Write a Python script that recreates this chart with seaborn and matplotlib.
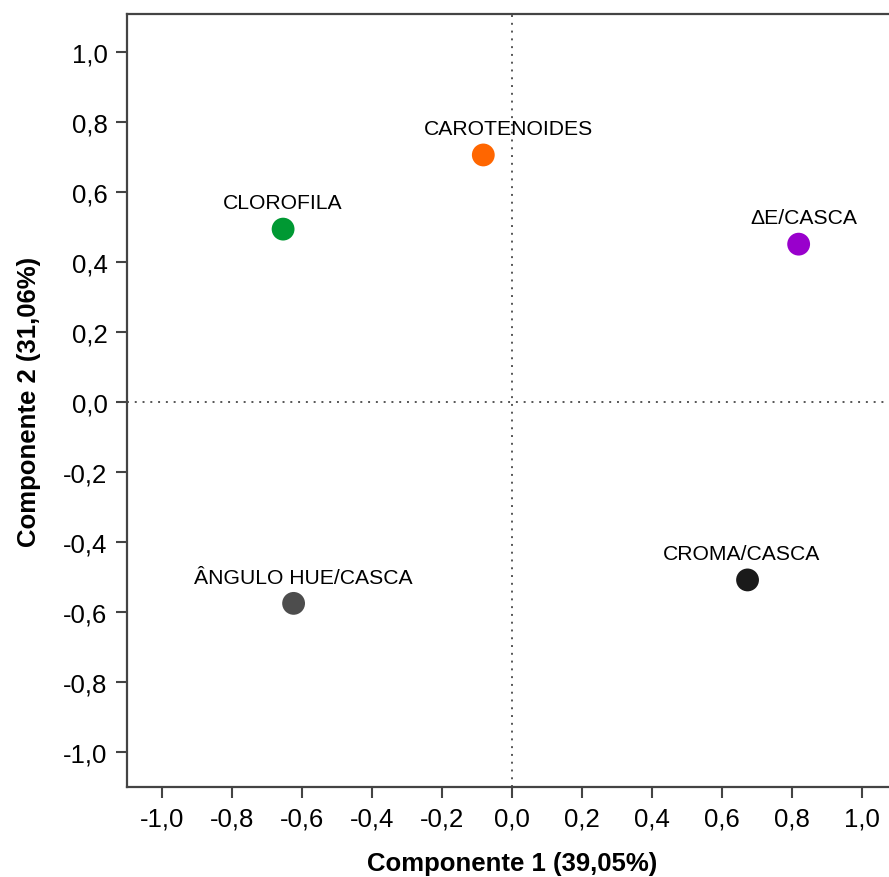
import matplotlib
matplotlib.use("Agg")
import matplotlib.pyplot as plt
import seaborn as sns
import pandas as pd
from matplotlib.ticker import FuncFormatter

# Variable loadings on the first two principal components
variables = ["CLOROFILA", "CAROTENOIDES", "\u0394E/CASCA", "CROMA/CASCA", "\u00c2NGULO HUE/CASCA"]
comp1 = [-0.654, -0.082, 0.819, 0.673, -0.624]
comp2 = [0.495, 0.707, 0.452, -0.508, -0.575]
colors = ["#009933", "#ff6600", "#9900cc", "#1a1a1a", "#4d4d4d"]
ticks = [-1.0, -0.8, -0.6, -0.4, -0.2, 0.0, 0.2, 0.4, 0.6, 0.8, 1.0]

xlabel = "Componente 1 (39,05%)"
ylabel = "Componente 2 (31,06%)"

df = pd.DataFrame({"var": variables, "c1": comp1, "c2": comp2})

sns.set_style("white")
plt.rcParams["font.family"] = ["Liberation Sans", "DejaVu Sans"]

W, H = 889, 878
fig = plt.figure(figsize=(W / 100, H / 100), dpi=100)
left, right, bottom, top = 127, 897, 90, 863
ax = fig.add_axes([left / W, bottom / H, (right - left) / W, (top - bottom) / H])

ax.axhline(0, color="#555555", lw=1.4, ls=(0, (1, 3)), zorder=1)
ax.axvline(0, color="#555555", lw=1.4, ls=(0, (1, 3)), zorder=1)

sns.scatterplot(data=df, x="c1", y="c2", hue="var", palette=colors,
                s=270, edgecolor="none", legend=False, ax=ax, zorder=3)

# label offsets in points (dx, dy) above each marker
offsets = [(0, 12), (18, 12), (4, 12), (-4, 12), (7, 12)]
for name, x, y, (dx, dy) in zip(variables, comp1, comp2, offsets):
    ax.annotate(name, (x, y), xytext=(dx, dy), textcoords="offset points",
                ha="center", va="bottom", fontsize=15.2, color="#000000")

ax.set_xlim(-1.1, 1.1)
ax.set_ylim(-1.1, 1.11)
fmt = FuncFormatter(lambda v, p: f"{v:.1f}".replace(".", ",").replace("-0,0", "0,0"))
ax.set_xticks(ticks)
ax.set_yticks(ticks)
ax.xaxis.set_major_formatter(fmt)
ax.yaxis.set_major_formatter(fmt)

for side in ["left", "bottom", "top"]:
    ax.spines[side].set_color("#444444")
    ax.spines[side].set_linewidth(1.6)
ax.spines["right"].set_visible(False)

ax.tick_params(axis="both", direction="out", length=8, width=1.5, color="#444444",
               labelsize=18.5, labelcolor="#000000", pad=6,
               bottom=True, left=True)

ax.set_xlabel(xlabel, fontsize=18.5, fontweight="bold", labelpad=15, color="#000000")
ax.set_ylabel(ylabel, fontsize=18.5, fontweight="bold", labelpad=16, color="#000000")

fig.savefig("out.png", dpi=100)
